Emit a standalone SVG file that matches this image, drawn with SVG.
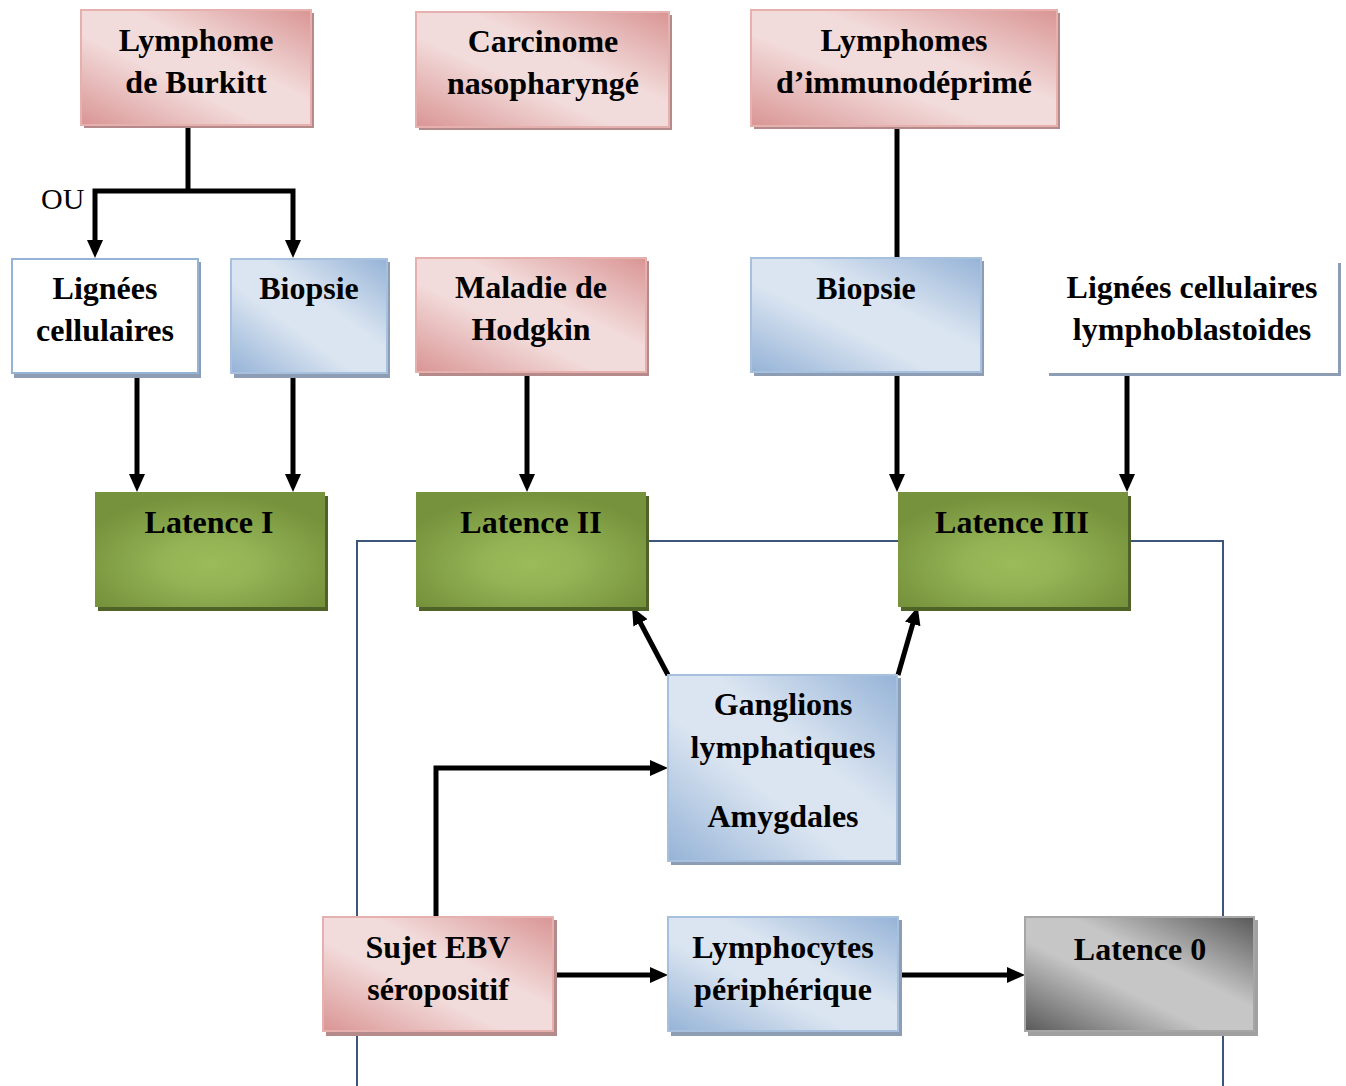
<svg xmlns="http://www.w3.org/2000/svg" width="1346" height="1086" viewBox="0 0 1346 1086">
<defs>
<linearGradient id="gPink" x1="1" y1="0" x2="0" y2="1">
<stop offset="0" stop-color="#d99594"/>
<stop offset="0.4" stop-color="#f2dcdb"/>
<stop offset="0.6" stop-color="#f2dcdb"/>
<stop offset="1" stop-color="#d99594"/>
</linearGradient>
<linearGradient id="gBlue" x1="1" y1="0" x2="0" y2="1">
<stop offset="0" stop-color="#95b3d7"/>
<stop offset="0.4" stop-color="#dbe5f1"/>
<stop offset="0.6" stop-color="#dbe5f1"/>
<stop offset="1" stop-color="#95b3d7"/>
</linearGradient>
<linearGradient id="gGray" x1="1" y1="0" x2="0" y2="1">
<stop offset="0" stop-color="#595959"/>
<stop offset="0.4" stop-color="#c6c6c6"/>
<stop offset="0.6" stop-color="#c6c6c6"/>
<stop offset="1" stop-color="#595959"/>
</linearGradient>
<radialGradient id="gGreen" cx="0.5" cy="0.62" r="0.6">
<stop offset="0" stop-color="#9bbb59"/>
<stop offset="0.35" stop-color="#93b355"/>
<stop offset="1" stop-color="#76923c"/>
</radialGradient>
<marker id="arr" markerUnits="userSpaceOnUse" markerWidth="18" markerHeight="16" refX="1" refY="8" orient="auto-start-reverse" viewBox="0 0 18 16">
<path d="M0,0 L18,8 L0,16 z" fill="#000"/>
</marker>
<style>
.t{font-family:"Liberation Serif","Times New Roman",serif;font-weight:bold;font-size:32px;fill:#000;text-anchor:middle}
.ou{font-family:"Liberation Serif","Times New Roman",serif;font-size:30px;fill:#000}
.pink{fill:url(#gPink);stroke:#e6b0af;stroke-width:2}
.blue{fill:url(#gBlue);stroke:#a7c0de;stroke-width:2}
.white{fill:#fff;stroke:#95b3d7;stroke-width:2}
.green{fill:url(#gGreen)}
.gray{fill:url(#gGray);stroke:#a6a6a6;stroke-width:2}
.shP{fill:#b48a8a}
.shB{fill:#8d9db3}
.shG{fill:#4f6228}
.shK{fill:#a0a0a0}
.c{fill:none;stroke:#000;stroke-width:5}
.ca{fill:none;stroke:#000;stroke-width:5;marker-end:url(#arr)}
</style>
</defs>
<rect width="1346" height="1086" fill="#fff"/>
<path d="M357,1086 V541 H1223 V1086" fill="none" stroke="#3b5679" stroke-width="2"/>

<g id="connectors">
<path class="c" d="M188,125 V191"/>
<path class="c" d="M95,241 V191 H293 V241" marker-start="url(#arr)" marker-end="url(#arr)"/>
<path class="ca" d="M137,373 V475"/>
<path class="ca" d="M293,373 V475"/>
<path class="ca" d="M527,372 V475"/>
<path class="c" d="M897,125 V258"/>
<path class="ca" d="M897,372 V475"/>
<path class="ca" d="M1127,374 V475"/>
<path class="ca" d="M668,675 L640,622"/>
<path class="ca" d="M898,675 L913,623"/>
<path class="ca" d="M436,917 V768 H651"/>
<path class="ca" d="M553,975 H651"/>
<path class="ca" d="M898,975 H1008"/>
</g>
<text class="ou" x="41" y="209">OU</text>

<g id="burkitt">
<rect class="shP" x="84" y="13" width="230" height="115"/>
<rect class="pink" x="81" y="10" width="230" height="115"/>
<text class="t" x="196" y="51">Lymphome</text>
<text class="t" x="196" y="93">de Burkitt</text>
</g>
<g id="carcinome">
<rect class="shP" x="419" y="15" width="253" height="115"/>
<rect class="pink" x="416" y="12" width="253" height="115"/>
<text class="t" x="543" y="52">Carcinome</text>
<text class="t" x="543" y="94">nasopharyngé</text>
</g>
<g id="lymphomes">
<rect class="shP" x="754" y="13" width="306" height="116"/>
<rect class="pink" x="751" y="10" width="306" height="116"/>
<text class="t" x="904" y="51">Lymphomes</text>
<text class="t" x="904" y="93">d’immunodéprimé</text>
</g>
<g id="lignees">
<rect class="shB" x="14" y="262" width="187" height="116"/>
<rect class="white" x="12" y="259" width="186" height="114"/>
<text class="t" x="105" y="299">Lignées</text>
<text class="t" x="105" y="341">cellulaires</text>
</g>
<g id="biopsie1">
<rect class="shB" x="234" y="262" width="156" height="116"/>
<rect class="blue" x="231" y="259" width="156" height="114"/>
<text class="t" x="309" y="299">Biopsie</text>
</g>
<g id="hodgkin">
<rect class="shP" x="419" y="261" width="230" height="115"/>
<rect class="pink" x="416" y="258" width="230" height="114"/>
<text class="t" x="531" y="298">Maladie de</text>
<text class="t" x="531" y="340">Hodgkin</text>
</g>
<g id="biopsie2">
<rect class="shB" x="754" y="261" width="230" height="115"/>
<rect class="blue" x="751" y="258" width="230" height="114"/>
<text class="t" x="866" y="299">Biopsie</text>
</g>
<g id="lymphoblastoides">
<rect class="shB" x="1049" y="263" width="292" height="113"/>
<rect fill="#fff" x="1046" y="259" width="292" height="114"/>
<text class="t" x="1192" y="298">Lignées cellulaires</text>
<text class="t" x="1192" y="340">lymphoblastoides</text>
</g>
<g id="latence1">
<rect class="shG" x="98" y="496" width="230" height="115"/>
<rect class="green" x="95" y="492" width="230" height="115"/>
<text class="t" x="209" y="533">Latence I</text>
</g>
<g id="latence2">
<rect class="shG" x="419" y="496" width="230" height="115"/>
<rect class="green" x="416" y="492" width="230" height="115"/>
<text class="t" x="531" y="533">Latence II</text>
</g>
<g id="latence3">
<rect class="shG" x="901" y="496" width="230" height="115"/>
<rect class="green" x="898" y="492" width="230" height="115"/>
<text class="t" x="1012" y="533">Latence III</text>
</g>
<g id="ganglions">
<rect class="shB" x="671" y="678" width="230" height="187"/>
<rect class="blue" x="668" y="675" width="229" height="186"/>
<text class="t" x="783" y="715">Ganglions</text>
<text class="t" x="783" y="758">lymphatiques</text>
<text class="t" x="783" y="827">Amygdales</text>
</g>
<g id="sujet">
<rect class="shP" x="326" y="920" width="231" height="116"/>
<rect class="pink" x="323" y="917" width="230" height="114"/>
<text class="t" x="438" y="958">Sujet EBV</text>
<text class="t" x="438" y="1000">séropositif</text>
</g>
<g id="lymphocytes">
<rect class="shB" x="671" y="920" width="231" height="116"/>
<rect class="blue" x="668" y="917" width="230" height="114"/>
<text class="t" x="783" y="958">Lymphocytes</text>
<text class="t" x="783" y="1000">périphérique</text>
</g>
<g id="latence0">
<rect class="shK" x="1028" y="920" width="230" height="116"/>
<rect class="gray" x="1025" y="917" width="229" height="114"/>
<text class="t" x="1140" y="960">Latence 0</text>
</g>
</svg>
